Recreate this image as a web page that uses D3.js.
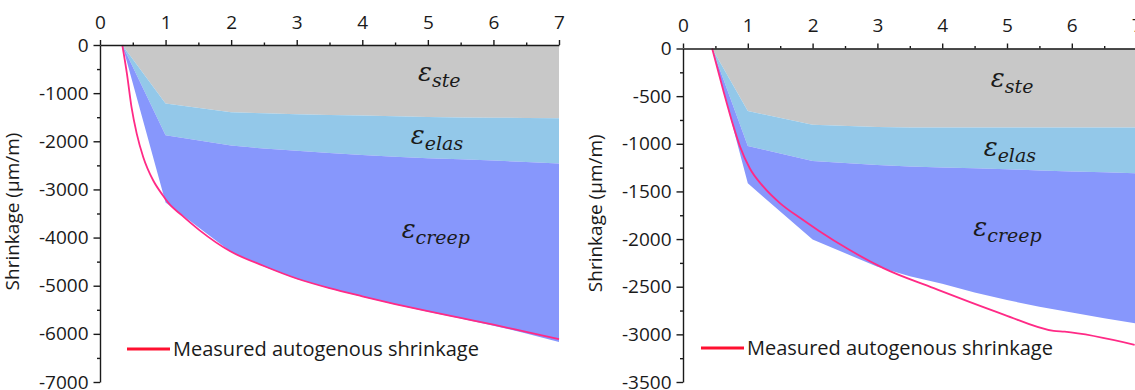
<!DOCTYPE html>
<html>
<head>
<meta charset="utf-8">
<script src="https://cdn.jsdelivr.net/npm/d3@7"></script>
<style>
  html, body { margin: 0; padding: 0; background: #fff; overflow: hidden; }
  svg { display: block; }
  .tick text { font-family: "Open Sans", sans-serif; font-size: 19px; fill: #1a1a1a; }
  .axis path, .axis line { stroke: #1a1a1a; stroke-width: 1.4px; }
</style>
</head>
<body>
<svg id="chart" width="1135" height="390"></svg>
<script>
// ---- Left panel: component boundaries (µm/m, magnitudes stacked downwards)
const ageL      = [0.34, 1, 2, 2.5, 3, 3.5, 4, 4.5, 5, 5.5, 6, 6.5, 7];
const steL      = [0, 1215, 1395, 1420, 1440, 1455, 1465, 1480, 1495, 1505, 1510, 1515, 1520];
const elasL     = [0, 660, 695, 730, 755, 790, 820, 840, 855, 870, 890, 915, 940];
const creepL    = [0, 1395, 2210, 2450, 2665, 2815, 2945, 3070, 3190, 3305, 3430, 3560, 3710];
const measAgeL  = [0.34, 0.41, 0.48, 0.56, 0.66, 0.81, 0.96, 1.05, 1.25, 1.52, 1.98, 2.5, 3, 3.5, 4, 4.5, 5, 5.5, 6, 6.5, 7];
const measL     = [0, 590, 1285, 1840, 2330, 2810, 3125, 3290, 3540, 3850, 4280, 4590, 4850, 5050, 5220, 5380, 5530, 5670, 5810, 5960, 6110];

// ---- Right panel
const ageR      = [0.45, 1, 2, 3, 3.5, 4, 4.5, 5, 5.5, 6, 6.5, 7];
const steR      = [0, 656, 800, 825, 828, 830, 830, 830, 830, 830, 830, 830];
const elasR     = [0, 367, 380, 397, 410, 420, 428, 437, 450, 462, 470, 480];
const creepR    = [0, 392, 825, 1068, 1152, 1220, 1302, 1373, 1430, 1478, 1530, 1575];
const measAgeR  = [0.45, 0.62, 0.78, 0.88, 1.03, 1.24, 1.5, 1.81, 2.1, 2.56, 3.1, 3.87, 4.42, 4.96, 5.72, 5.89, 6.97];
const measR     = [0, 435, 820, 1030, 1257, 1450, 1625, 1780, 1915, 2110, 2307, 2515, 2660, 2795, 2963, 2972, 3110];

// ---- Axis ticks
const xTicks      = [0, 1, 2, 3, 4, 5, 6, 7];
const xMinor      = [0.5, 1.5, 2.5, 3.5, 4.5, 5.5, 6.5];
const yTicksL     = [0, -1000, -2000, -3000, -4000, -5000, -6000, -7000];
const yMinorL     = [-500, -1500, -2500, -3500, -4500, -5500, -6500];
const yTicksR     = [0, -500, -1000, -1500, -2000, -2500, -3000, -3500];
const yMinorR     = [-250, -750, -1250, -1750, -2250, -2750, -3250];

const componentKeys = ["ste", "elas", "creep"];
const componentColors = { ste: "#c8c8c8", elas: "#93c8e9", creep: "#8797fc" };
const yTitle = "Shrinkage (\u03bcm/m)";
const legendLabel = "Measured autogenous shrinkage";

const svg = d3.select("#chart");
const plainNumber = d => String(d);

function drawPanel(cfg) {
  const x = d3.scaleLinear().domain([0, 7]).range([cfg.x0, cfg.x1]);
  const y = d3.scaleLinear().domain([0, cfg.yMin]).range([cfg.y0, cfg.y1]);
  const g = svg.append("g");

  // stacked strain components
  const rows = cfg.age.map((a, i) => ({ age: a, ste: cfg.ste[i], elas: cfg.elas[i], creep: cfg.creep[i] }));
  const stacked = d3.stack().keys(componentKeys)(rows);
  const area = d3.area()
    .x(d => x(d.data.age))
    .y0(d => y(-d[0]))
    .y1(d => y(-d[1]));
  g.selectAll("path.layer").data(stacked).join("path")
    .attr("class", "layer")
    .attr("fill", d => componentColors[d.key])
    .attr("d", area);

  // measured curve
  const line = d3.line().x(d => x(d[0])).y(d => y(-d[1])).curve(d3.curveMonotoneX);
  g.append("path")
    .datum(cfg.measAge.map((a, i) => [a, cfg.meas[i]]))
    .attr("fill", "none")
    .attr("stroke", "#ff2a86")
    .attr("stroke-width", 1.8)
    .attr("d", line);

  // component labels
  cfg.labels.forEach(l => {
    const t = g.append("text")
      .attr("x", x(l.x)).attr("y", y(l.y))
      .attr("font-family", "DejaVu Serif, serif")
      .attr("font-style", "italic")
      .attr("fill", "#1a1a1a");
    t.append("tspan").attr("font-size", 26).text("\u03b5");
    t.append("tspan").attr("font-size", 19).attr("dy", 6).text(l.key);
  });

  // axes
  g.append("g").attr("class", "axis").attr("transform", `translate(0,${cfg.y0})`)
    .call(d3.axisTop(x).tickValues(xTicks).tickSize(5).tickSizeOuter(0).tickPadding(cfg.xPad).tickFormat(plainNumber));
  g.append("g").attr("class", "axis").attr("transform", `translate(0,${cfg.y0})`)
    .call(d3.axisTop(x).tickValues(xMinor).tickSize(2.5).tickSizeOuter(0).tickFormat(""))
    .select(".domain").remove();
  g.append("g").attr("class", "axis").attr("transform", `translate(${cfg.x0},0)`)
    .call(d3.axisLeft(y).tickValues(cfg.yTicks).tickSize(6.5).tickSizeOuter(0).tickPadding(5).tickFormat(plainNumber));
  g.append("g").attr("class", "axis").attr("transform", `translate(${cfg.x0},0)`)
    .call(d3.axisLeft(y).tickValues(cfg.yMinor).tickSize(3).tickSizeOuter(0).tickFormat(""))
    .select(".domain").remove();

  // axis title
  g.append("text")
    .attr("transform", `translate(${cfg.titleX},${(cfg.y0 + cfg.y1) / 2 - 2}) rotate(-90)`)
    .attr("text-anchor", "middle")
    .attr("font-family", "Open Sans, sans-serif")
    .attr("font-size", 19)
    .attr("fill", "#1a1a1a")
    .text(yTitle);

  // legend
  g.append("line")
    .attr("x1", cfg.legX).attr("x2", cfg.legX + 43)
    .attr("y1", cfg.legY).attr("y2", cfg.legY)
    .attr("stroke", "#ff1030").attr("stroke-width", 3);
  g.append("text")
    .attr("x", cfg.legX + 46).attr("y", cfg.legY + 7)
    .attr("font-family", "Open Sans, sans-serif")
    .attr("font-size", 20)
    .attr("fill", "#1a1a1a")
    .text(legendLabel);
}

drawPanel({
  x0: 100, x1: 559, y0: 45, y1: 382, yMin: -7000, xPad: 11,
  age: ageL, ste: steL, elas: elasL, creep: creepL,
  measAge: measAgeL, meas: measL,
  yTicks: yTicksL, yMinor: yMinorL,
  titleX: 19, legX: 127, legY: 349,
  labels: [
    { key: "ste", x: 4.85, y: -748 },
    { key: "elas", x: 4.74, y: -2057 },
    { key: "creep", x: 4.6, y: -4010 }
  ]
});

drawPanel({
  x0: 683, x1: 1136.6, y0: 48.5, y1: 382, yMin: -3500, xPad: 12,
  age: ageR, ste: steR, elas: elasR, creep: creepR,
  measAge: measAgeR, meas: measR,
  yTicks: yTicksR, yMinor: yMinorR,
  titleX: 602, legX: 701, legY: 348,
  labels: [
    { key: "ste", x: 4.75, y: -400 },
    { key: "elas", x: 4.64, y: -1128 },
    { key: "creep", x: 4.48, y: -1973 }
  ]
});
</script>
</body>
</html>
